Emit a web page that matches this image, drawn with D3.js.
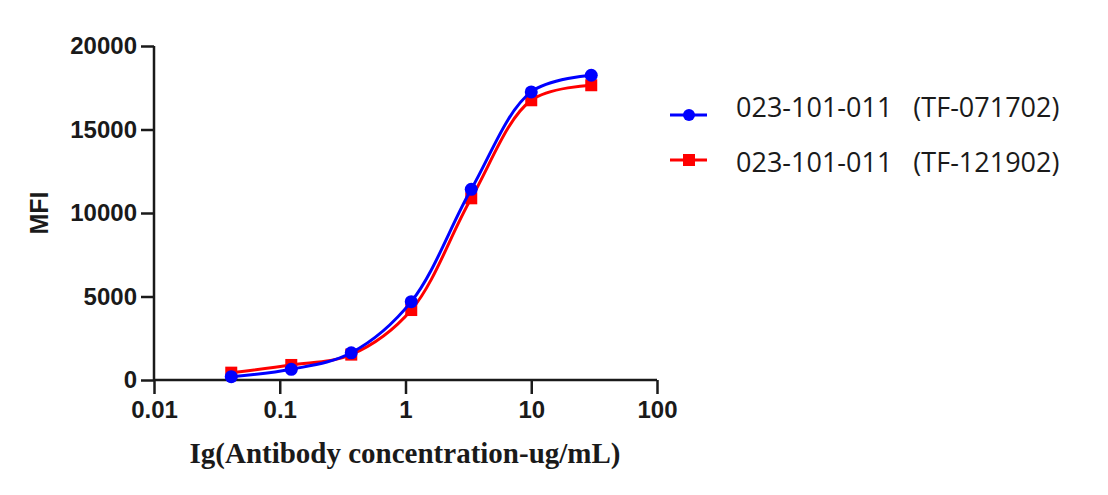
<!DOCTYPE html>
<html lang="en">
<head>
    <meta charset="UTF-8">
    <script src="https://cdnjs.cloudflare.com/ajax/libs/d3/7.8.5/d3.min.js"></script>
    <style>
        body { margin: 0; background: #fff; }
        svg { display: block; }
    </style>
</head>
<body>
    <svg id="chart" width="1108" height="495"></svg>
    <script>
        // concentrations (ug/mL), 3-fold dilution
        const concentrations = [30, 10, 3.333, 1.111, 0.3704, 0.1235, 0.04115];
        const seriesNames = ["023-101-011   (TF-071702)", "023-101-011   (TF-121902)"];
        const mfiBlue = [18250, 17250, 11420, 4690, 1630, 640, 200];
        const mfiRed = [17650, 16750, 10880, 4190, 1520, 900, 440];
        const xTicks = [0.01, 0.1, 1, 10, 100];
        const yTicks = [0, 5000, 10000, 15000, 20000];

        const blue = "#0000ff", red = "#ff0000", ink = "#1a1a1a";
        const svg = d3.select("#chart");

        const xScale = d3.scaleLog().domain([0.01, 100]).range([154, 657]);
        const yScale = d3.scaleLinear().domain([0, 20000]).range([380, 46]);

        const xAxis = d3.axisBottom(xScale)
            .tickValues(xTicks)
            .tickFormat(d => String(d))
            .tickSize(14)
            .tickPadding(7);
        const yAxis = d3.axisLeft(yScale)
            .tickValues(yTicks)
            .tickFormat(d => String(d))
            .tickSize(13)
            .tickPadding(4);

        const gx = svg.append("g")
            .attr("transform", "translate(0,380)")
            .call(xAxis);
        const gy = svg.append("g")
            .attr("transform", "translate(154,0)")
            .call(yAxis);

        [gx, gy].forEach(g => {
            g.select(".domain").attr("stroke", ink).attr("stroke-width", 2.5);
            g.selectAll(".tick line").attr("stroke", ink).attr("stroke-width", 2.5);
            g.selectAll(".tick text")
                .attr("fill", ink)
                .style("font-family", "'Liberation Sans', Arial, sans-serif")
                .style("font-weight", "bold")
                .style("font-size", "24px");
        });
        gx.select(".domain").attr("d", "M154,0H657");
        gy.select(".domain").attr("d", "M0,46V380");

        // axis titles
        svg.append("text")
            .attr("transform", "translate(48,213) rotate(-90)")
            .attr("text-anchor", "middle")
            .style("font-family", "'Liberation Sans', Arial, sans-serif")
            .style("font-weight", "bold")
            .style("font-size", "25px")
            .attr("fill", ink)
            .text("MFI");

        svg.append("text")
            .attr("x", 405)
            .attr("y", 463)
            .attr("text-anchor", "middle")
            .style("font-family", "'Liberation Serif', 'Times New Roman', serif")
            .style("font-weight", "bold")
            .style("font-size", "29px")
            .attr("fill", ink)
            .text("Ig(Antibody concentration-ug/mL)");

        const line = d3.line()
            .x(d => xScale(d[0]))
            .y(d => yScale(d[1]))
            .curve(d3.curveCatmullRom.alpha(0.5));

        const redPts = concentrations.map((c, i) => [c, mfiRed[i]]).sort((a, b) => a[0] - b[0]);
        const bluePts = concentrations.map((c, i) => [c, mfiBlue[i]]).sort((a, b) => a[0] - b[0]);

        svg.append("path")
            .attr("d", line(redPts))
            .attr("fill", "none")
            .attr("stroke", red)
            .attr("stroke-width", 3);

        svg.selectAll("rect.red")
            .data(redPts)
            .enter()
            .append("rect")
            .attr("class", "red")
            .attr("x", d => xScale(d[0]) - 6)
            .attr("y", d => yScale(d[1]) - 6)
            .attr("width", 12)
            .attr("height", 12)
            .attr("fill", red);

        svg.append("path")
            .attr("d", line(bluePts))
            .attr("fill", "none")
            .attr("stroke", blue)
            .attr("stroke-width", 3);

        svg.selectAll("circle.blue")
            .data(bluePts)
            .enter()
            .append("circle")
            .attr("class", "blue")
            .attr("cx", d => xScale(d[0]))
            .attr("cy", d => yScale(d[1]))
            .attr("r", 6.5)
            .attr("fill", blue);

        // legend
        const legend = svg.append("g");
        const rows = [{ name: seriesNames[0], color: blue, y: 115, ty: 117, shape: "circle" },
                      { name: seriesNames[1], color: red, y: 160, ty: 172, shape: "square" }];
        rows.forEach(r => {
            legend.append("line")
                .attr("x1", 670).attr("x2", 707)
                .attr("y1", r.y).attr("y2", r.y)
                .attr("stroke", r.color)
                .attr("stroke-width", 3);
            if (r.shape === "circle") {
                legend.append("circle")
                    .attr("cx", 689).attr("cy", r.y).attr("r", 6).attr("fill", r.color);
            } else {
                legend.append("rect")
                    .attr("x", 683).attr("y", r.y - 6).attr("width", 12).attr("height", 12)
                    .attr("fill", r.color);
            }
            legend.append("text")
                .attr("x", 736)
                .attr("y", r.ty)
                .style("white-space", "pre")
                .style("font-family", "'Open Sans', sans-serif")
                .style("font-size", "27px")
                .attr("fill", ink)
                .text(r.name);
        });
    </script>
</body>
</html>
